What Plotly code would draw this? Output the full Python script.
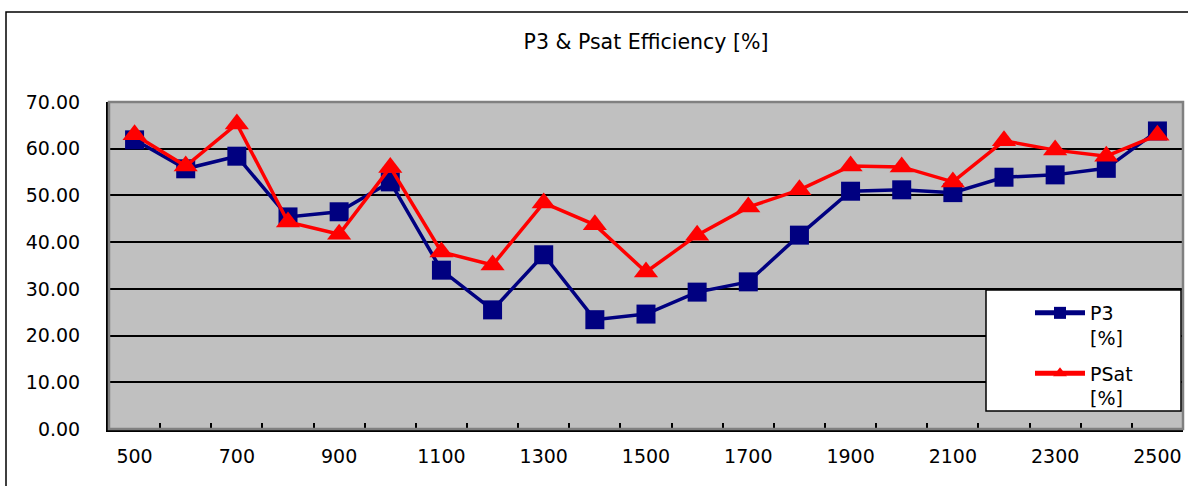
import plotly.graph_objects as go

freq = [500, 600, 700, 800, 900, 1000, 1100, 1200, 1300, 1400, 1500,
        1600, 1700, 1800, 1900, 2000, 2100, 2200, 2300, 2400, 2500]
p3 = [61.9, 55.7, 58.4, 45.4, 46.5, 52.9, 34.0, 25.5, 37.3, 23.4, 24.6,
      29.3, 31.5, 41.5, 50.9, 51.2, 50.6, 53.9, 54.4, 55.8, 63.8]
psat = [63.0, 56.3, 65.3, 44.3, 41.7, 56.0, 37.9, 35.1, 48.4, 43.7, 33.6,
        41.5, 47.5, 51.2, 56.3, 56.1, 52.9, 61.7, 59.7, 58.4, 62.9]

cats = [str(f) for f in freq]
ticktext = [c if i % 2 == 0 else "" for i, c in enumerate(cats)]

W, H = 1188, 486
L, R, T, B = 109, 1183, 102, 429


def px(x):
    return (x - L) / (R - L)


def py(y):
    return (B - y) / (B - T)


FONT = "DejaVu Sans"
FS = 19

fig = go.Figure()
fig.add_trace(go.Scatter(
    x=cats, y=p3, name="P3<br>[%]", mode="lines+markers", legendgroup="p3",
    line=dict(color="#000080", width=3.5),
    marker=dict(symbol="square", size=19, color="#000080"),
))
fig.add_trace(go.Scatter(
    x=cats, y=psat, name="PSat<br>[%]", mode="lines+markers", legendgroup="psat",
    line=dict(color="#ff0000", width=3.5),
    marker=dict(symbol="triangle-up", size=21, color="#ff0000"),
))

shapes = [
    # outer chart frame
    dict(type="rect", xref="paper", yref="paper",
         x0=px(6), x1=px(1200), y0=py(500), y1=py(12),
         line=dict(color="#000000", width=1.5), fillcolor="rgba(0,0,0,0)",
         layer="below"),
    # plot area border (gray top/right)
    dict(type="rect", xref="paper", yref="paper",
         x0=0, x1=1, y0=0, y1=1,
         line=dict(color="#808080", width=2.5), fillcolor="rgba(0,0,0,0)",
         layer="above"),
    # legend box
    dict(type="rect", xref="paper", yref="paper",
         x0=px(986), x1=px(1181), y0=py(411), y1=py(290),
         line=dict(color="#000000", width=1.5), fillcolor="#ffffff",
         layer="above"),
]

fig.update_layout(
    width=W, height=H,
    margin=dict(l=L, r=W - R, t=T, b=H - B),
    paper_bgcolor="#ffffff",
    plot_bgcolor="#c0c0c0",
    font=dict(family=FONT, size=FS, color="#000000"),
    title=dict(text="P3 & Psat Efficiency [%]", x=0.5, xref="paper",
               xanchor="center", y=1 - 42 / H, yanchor="middle",
               font=dict(family=FONT, size=20.5, color="#000000")),
    showlegend=True,
    legend=dict(x=px(1030), y=py(294), xanchor="left", yanchor="top",
                bgcolor="rgba(0,0,0,0)", borderwidth=0,
                font=dict(family=FONT, size=FS, color="#000000"),
                valign="top", itemwidth=50, tracegroupgap=8,
                itemsizing="constant"),
    shapes=shapes,
)

fig.update_xaxes(
    type="category", categoryorder="array", categoryarray=cats,
    range=[-0.5, len(cats) - 0.5], autorange=False,
    tickmode="array", tickvals=cats, ticktext=ticktext,
    tickson="boundaries", ticks="inside", ticklen=6, tickwidth=2,
    tickcolor="#000000", tickangle=0, automargin=False,
    ticklabelstandoff=8,
    showline=True, linecolor="#000000", linewidth=3,
    showgrid=False, zeroline=False,
    tickfont=dict(family=FONT, size=FS, color="#000000"),
)
fig.update_yaxes(
    range=[0, 70], tick0=0, dtick=10, tickformat=".2f",
    showline=True, linecolor="#000000", linewidth=3,
    showgrid=True, gridcolor="#000000", gridwidth=2,
    zeroline=False, ticks="", ticklen=0, automargin=False,
    ticklabelstandoff=22,
    tickfont=dict(family=FONT, size=FS, color="#000000"),
)

fig.write_html("out.html", config={"displayModeBar": False},
               post_script="document.body.style.margin='0';")
